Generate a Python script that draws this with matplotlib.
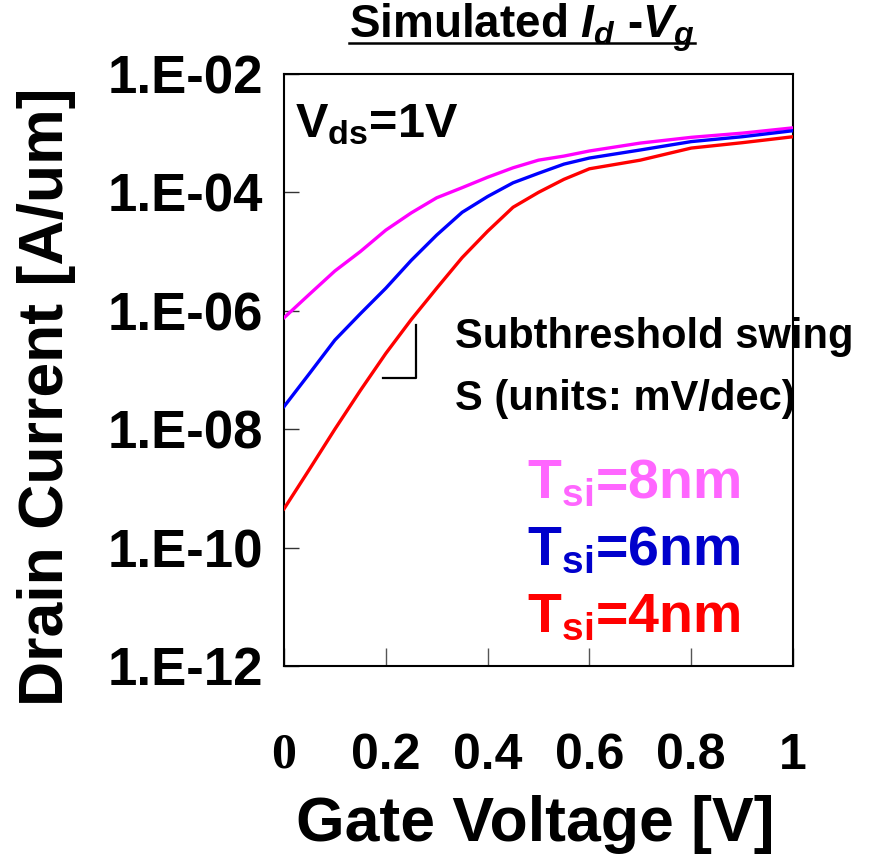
import matplotlib
matplotlib.use("Agg")
import matplotlib.pyplot as plt
from matplotlib import font_manager
from matplotlib.lines import Line2D

# gate voltage sweep [V]
vg = [0, 0.05, 0.1, 0.15, 0.2, 0.25, 0.3, 0.35, 0.4, 0.45, 0.5, 0.55, 0.6, 0.7, 0.8, 0.9, 1.0]

# drain current [A/um]
id_8nm = [7.6e-7, 1.9e-6, 4.7e-6, 1.0e-5, 2.3e-5, 4.5e-5, 8.1e-5, 1.2e-4, 1.8e-4,
          2.6e-4, 3.5e-4, 4.1e-4, 5.0e-4, 6.8e-4, 8.5e-4, 1.0e-3, 1.23e-3]
id_6nm = [2.4e-8, 8.7e-8, 3.2e-7, 8.9e-7, 2.4e-6, 7.1e-6, 1.9e-5, 4.6e-5, 8.5e-5,
          1.45e-4, 2.1e-4, 3.0e-4, 3.8e-4, 5.2e-4, 7.2e-4, 8.7e-4, 1.1e-3]
id_4nm = [4.5e-10, 2.1e-9, 1.0e-8, 4.5e-8, 1.9e-7, 7.1e-7, 2.4e-6, 7.9e-6, 2.2e-5,
          5.6e-5, 1.0e-4, 1.66e-4, 2.5e-4, 3.5e-4, 5.6e-4, 6.9e-4, 8.7e-4]

labels = [r"T$_\mathrm{si}$=8nm", r"T$_\mathrm{si}$=6nm", r"T$_\mathrm{si}$=4nm"]
line_colors = ["#FF00FF", "#0000FF", "#FF0000"]
text_colors = ["#FF66FF", "#0000CC", "#FF0000"]

x_ticks = [0, 0.2, 0.4, 0.6, 0.8, 1]
x_ticklabels = ["0", "0.2", "0.4", "0.6", "0.8", "1"]
y_ticks = [1e-12, 1e-10, 1e-8, 1e-6, 1e-4, 1e-2]
y_ticklabels = ["1.E-12", "1.E-10", "1.E-08", "1.E-06", "1.E-04", "1.E-02"]

# little slope marker next to the 4nm curve
marker_x = [0.195, 0.259, 0.259]
marker_y = [7.2e-8, 7.2e-8, 5.8e-7]

plt.rcParams["font.family"] = "Liberation Sans"
plt.rcParams["font.weight"] = "bold"
plt.rcParams["mathtext.fontset"] = "custom"
plt.rcParams["mathtext.rm"] = "Liberation Sans:bold"
plt.rcParams["mathtext.it"] = "Liberation Sans:bold:italic"
plt.rcParams["mathtext.bf"] = "Liberation Sans:bold"

try:
    font_manager.findfont("Liberation Sans Narrow", fallback_to_default=False)
    narrow, narrow_size = "Liberation Sans Narrow", 36
except Exception:
    narrow, narrow_size = "Liberation Sans", 30

fig = plt.figure(figsize=(8.7, 8.59), dpi=100)
ax = fig.add_axes([0.3264, 0.2247, 0.5851, 0.6892])

for y, c in zip([id_8nm, id_6nm, id_4nm], line_colors):
    ax.plot(vg, y, color=c, lw=2.4, zorder=3)

ax.plot(marker_x, marker_y, color="black", lw=1.6, zorder=3)

ax.set_yscale("log")
ax.set_xlim(0, 1)
ax.set_ylim(1e-12, 1e-2)
ax.set_yticks(y_ticks)
ax.set_yticklabels(y_ticklabels)
ax.yaxis.set_minor_locator(matplotlib.ticker.NullLocator())
ax.set_xticks(x_ticks)
ax.set_xticklabels(x_ticklabels)

ax.tick_params(axis="y", direction="in", length=11, width=1, color="#333333",
               pad=15, labelsize=38)
ax.tick_params(axis="x", direction="in", length=13, width=1, color="#555555",
               pad=48, labelsize=36)
for lab in ax.get_xticklabels():
    lab.set_fontweight("bold")
ax.get_xticklabels()[0].set_family("Liberation Serif")
for lab in ax.get_yticklabels():
    lab.set_fontweight("bold")

for s in ax.spines.values():
    s.set_linewidth(1.5)

fig.text(0.054, 0.5378, "Drain Current [A/um]", rotation=90, ha="center",
         va="center", fontsize=45, fontweight="bold")
fig.text(0.615, 0.0396, "Gate Voltage [V]", ha="center", va="center",
         fontsize=45, fontweight="bold")

title_y = 1 - 37 / 859
title = fig.text(0.600, title_y, r"Simulated $I_d$ -$V_g$", ha="center",
                 va="baseline", fontsize=33, fontweight="bold")

ax.text(0.339, 0.8405, r"V$_\mathrm{ds}$=1V", transform=fig.transFigure,
        fontsize=35, fontweight="bold", va="baseline")

ax.text(0.523, 0.5949, "Subthreshold swing", transform=fig.transFigure,
        family=narrow, fontsize=narrow_size, fontweight="bold", va="baseline",
        zorder=2, clip_on=False)
ax.text(0.523, 0.5227, "S (units: mV/dec)", transform=fig.transFigure,
        family=narrow, fontsize=narrow_size, fontweight="bold", va="baseline",
        zorder=2, clip_on=False)

for lab, c, yb in zip(labels, text_colors, [0.4203, 0.3423, 0.2643]):
    ax.text(0.6057, yb, lab, transform=fig.transFigure, color=c,
            fontsize=40, fontweight="bold", va="baseline")

# underline the title
fig.canvas.draw()
bb = title.get_window_extent()
y_line = title_y - 6 / 859
fig.add_artist(Line2D([bb.x0 / 870, bb.x1 / 870], [y_line, y_line],
                      color="black", lw=1.8, transform=fig.transFigure))

fig.savefig("out.png", dpi=100)
